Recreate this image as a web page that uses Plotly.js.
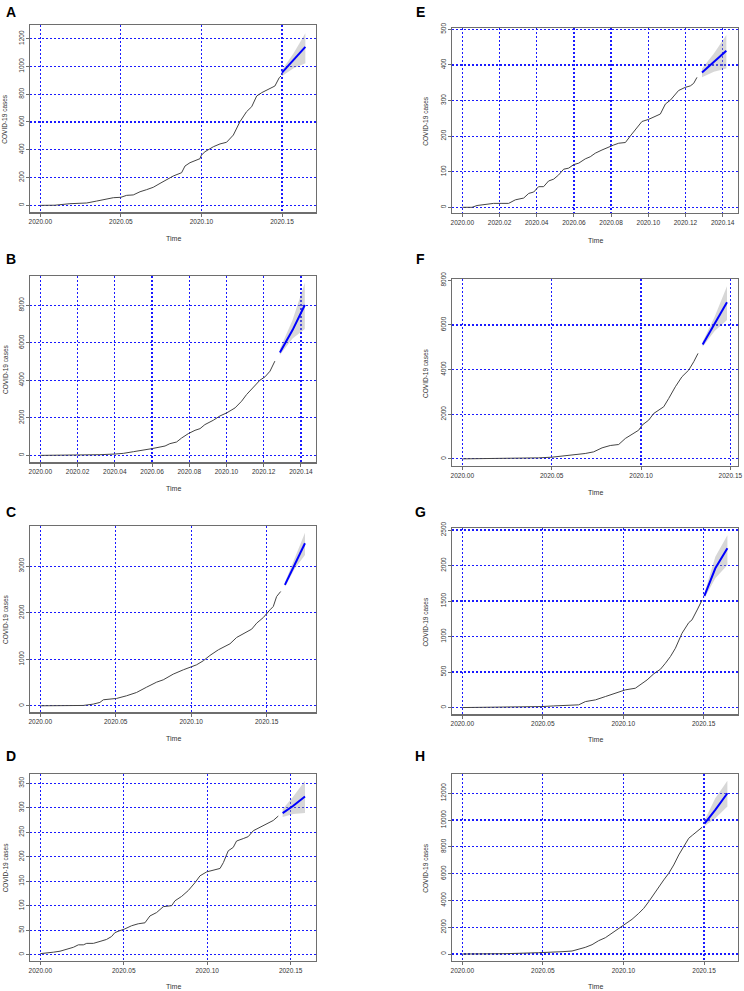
<!DOCTYPE html>
<html><head><meta charset="utf-8">
<script src="https://cdn.plot.ly/plotly-3.0.1.min.js"></script>
<style>html,body{margin:0;padding:0;background:#fff}</style>
</head><body><div id="chart" style="width:744px;height:991px"></div>
<script>
// ---------- data ----------
const panelLetters = ['A','B','C','D','E','F','G','H'];
const xTitle = 'Time';
const yTitle = 'COVID-19 cases';

const timeA = [2020.0000,2020.0091,2020.0184,2020.0288,2020.0350,2020.0412,2020.0453,2020.0500,2020.0536,2020.0577,2020.0619,2020.0660,2020.0701,2020.0743,2020.0784,2020.0825,2020.0877,2020.0898,2020.0929,2020.0991,2020.0999,2020.1022,2020.1074,2020.1115,2020.1156,2020.1198,2020.1239,2020.1280,2020.1312,2020.1343,2020.1374,2020.1405,2020.1436,2020.1456,2020.1483,2020.1494];
const casesA = [0,1,12,17,31,46,55,58,72,75,98,113,130,158,187,211,235,283,307,336,360,386,422,442,454,506,602,674,710,787,811,830,850,859,919,931];
const fcTimeA = [2020.1500,2020.1572,2020.1645];
const fcA = [955,1046,1140];
const loA = [931,986,1022];
const hiA = [975,1094,1238];

const timeB = [2020.0000,2020.0195,2020.0267,2020.0320,2020.0401,2020.0446,2020.0500,2020.0553,2020.0598,2020.0643,2020.0670,2020.0696,2020.0732,2020.0759,2020.0795,2020.0831,2020.0858,2020.0884,2020.0929,2020.0965,2020.1001,2020.1046,2020.1081,2020.1108,2020.1144,2020.1180,2020.1207,2020.1234,2020.1260];
const casesB = [0,0,18,36,71,107,196,267,356,445,499,624,713,926,1158,1336,1425,1639,1871,2102,2263,2530,2886,3243,3653,4009,4187,4490,5024];
const fcTimeB = [2020.1287,2020.1355,2020.1421];
const fcB = [5488,6681,8018];
const loB = [5345,6236,6735];
const hiB = [5666,7216,9200];

const timeC = [2020.0000,2020.0175,2020.0285,2020.0351,2020.0395,2020.0418,2020.0462,2020.0506,2020.0572,2020.0638,2020.0705,2020.0771,2020.0815,2020.0881,2020.0948,2020.0992,2020.1036,2020.1080,2020.1124,2020.1180,2020.1235,2020.1257,2020.1301,2020.1367,2020.1401,2020.1434,2020.1478,2020.1522,2020.1544,2020.1566,2020.1593];
const casesC = [0,0,7,36,72,129,136,158,215,286,401,508,558,680,773,823,881,967,1081,1203,1296,1332,1468,1597,1647,1776,1897,2062,2134,2348,2456];
const fcTimeC = [2020.1621,2020.1688,2020.1754];
const fcC = [2599,3064,3494];
const loC = [2560,2957,3243];
const hiC = [2650,3172,3720];

const timeD = [2020.0000,2020.0038,2020.0078,2020.0118,2020.0158,2020.0198,2020.0228,2020.0258,2020.0278,2020.0318,2020.0358,2020.0397,2020.0427,2020.0447,2020.0477,2020.0503,2020.0547,2020.0587,2020.0627,2020.0657,2020.0697,2020.0737,2020.0787,2020.0807,2020.0847,2020.0887,2020.0927,2020.0957,2020.0997,2020.1037,2020.1077,2020.1097,2020.1126,2020.1156,2020.1176,2020.1216,2020.1246,2020.1276,2020.1316,2020.1346,2020.1376,2020.1396,2020.1426];
const casesD = [2,3,5,7,11,15,20,20,23,23,27,31,37,45,49,52,59,63,65,79,86,98,100,110,119,131,147,161,169,173,176,188,212,219,232,237,241,253,260,266,271,274,283];
const fcTimeD = [2020.1452,2020.1516,2020.1586];
const fcD = [289,304,323];
const loD = [281,287,289];
const hiD = [297,323,355];

const timeE = [2020.0000,2020.0052,2020.0079,2020.0124,2020.0168,2020.0213,2020.0249,2020.0285,2020.0330,2020.0357,2020.0384,2020.0410,2020.0437,2020.0464,2020.0491,2020.0518,2020.0545,2020.0572,2020.0599,2020.0626,2020.0661,2020.0688,2020.0715,2020.0751,2020.0787,2020.0814,2020.0841,2020.0877,2020.0903,2020.0939,2020.0966,2020.1002,2020.1038,2020.1065,2020.1092,2020.1119,2020.1163,2020.1199,2020.1226,2020.1244,2020.1262];
const casesE = [0,0,5,8,11,11,11,21,26,39,43,58,58,74,79,91,107,110,120,124,136,142,152,161,170,175,180,182,200,222,241,247,255,262,290,301,328,337,341,348,365];
const fcTimeE = [2020.1289,2020.1353,2020.1420];
const fcE = [379,409,440];
const loE = [365,381,390];
const hiE = [390,432,484];

const timeF = [2020.0000,2020.0315,2020.0427,2020.0502,2020.0577,2020.0614,2020.0688,2020.0735,2020.0782,2020.0828,2020.0875,2020.0912,2020.0950,2020.0987,2020.1006,2020.1043,2020.1071,2020.1099,2020.1127,2020.1155,2020.1192,2020.1229,2020.1267,2020.1295,2020.1319];
const casesF = [0,15,45,75,135,150,240,314,493,598,643,912,1092,1286,1510,1735,2034,2183,2333,2707,3230,3678,3977,4351,4725];
const fcTimeF = [2020.1345,2020.1412,2020.1481];
const fcF = [5129,6041,7013];
const loF = [5024,5727,6220];
const hiF = [5250,6370,7730];

const timeG = [2020.0000,2020.0412,2020.0495,2020.0568,2020.0640,2020.0723,2020.0765,2020.0827,2020.0889,2020.0951,2020.1013,2020.1075,2020.1096,2020.1148,2020.1189,2020.1231,2020.1262,2020.1293,2020.1324,2020.1365,2020.1407,2020.1427,2020.1459,2020.1490];
const casesG = [0,5,14,23,33,38,84,108,155,202,249,272,305,389,474,539,624,718,835,1046,1196,1234,1374,1515];
const fcTimeG = [2020.1504,2020.1572,2020.1647];
const fcG = [1571,1961,2242];
const loG = [1538,1820,2007];
const hiG = [1609,2125,2427];

const timeH = [2020.0000,2020.0267,2020.0474,2020.0557,2020.0619,2020.0681,2020.0722,2020.0763,2020.0805,2020.0846,2020.0888,2020.0929,2020.0970,2020.1012,2020.1053,2020.1095,2020.1126,2020.1157,2020.1188,2020.1219,2020.1250,2020.1281,2020.1312,2020.1343,2020.1374,2020.1405,2020.1430,2020.1457,2020.1488];
const casesH = [0,25,100,125,174,224,349,498,697,996,1220,1544,1892,2241,2589,3037,3411,3909,4481,5029,5527,6025,6647,7394,8016,8639,8888,9137,9460];
const fcTimeH = [2020.1504,2020.1570,2020.1645];
const fcH = [9759,10755,12000];
const loH = [9560,10133,11004];
const hiH = [10008,11626,12940];

// ---------- layout configuration ----------
const W = 744, HT = 991;
const panels = [
  {L:'A', t:timeA, c:casesA, ft:fcTimeA, f:fcA, lo:loA, hi:hiA, box:[30.3,316,25,212.3],   xr:[2019.9938,2020.1711], yr:[-50,1298],   xd:0.05, yd:200,  lab:[11,12.5],  tt:238},
  {L:'B', t:timeB, c:casesB, ft:fcTimeB, f:fcB, lo:loB, hi:hiB, box:[30.3,316,275.7,462.3], xr:[2019.9946,2020.1481], yr:[-370,9580],  xd:0.02, yd:2000, lab:[11,259],   tt:488},
  {L:'C', t:timeC, c:casesC, ft:fcTimeC, f:fcC, lo:loC, hi:hiC, box:[30.3,316,525.7,712.3], xr:[2019.9934,2020.1827], yr:[-140,3870],  xd:0.05, yd:1000, lab:[11,512],   tt:738},
  {L:'D', t:timeD, c:casesD, ft:fcTimeD, f:fcD, lo:loD, hi:hiD, box:[30.3,316,773.7,961],   xr:[2019.9940,2020.1652], yr:[-13,369.5],  xd:0.05, yd:50,   lab:[11,756],   tt:986},
  {L:'E', t:timeE, c:casesE, ft:fcTimeE, f:fcE, lo:loE, hi:hiE, box:[452.3,737.7,27.7,213], xr:[2019.9946,2020.1481], yr:[-16,504.5],  xd:0.02, yd:100,  lab:[420,12.5], tt:240},
  {L:'F', t:timeF, c:casesF, ft:fcTimeF, f:fcF, lo:loF, hi:hiF, box:[452.3,737.7,279.3,466],xr:[2019.9944,2020.1541], yr:[-320,8045],  xd:0.05, yd:2000, lab:[420,259],  tt:492},
  {L:'G', t:timeG, c:casesG, ft:fcTimeG, f:fcG, lo:loG, hi:hiG, box:[452.3,737.7,528.3,714.3],xr:[2019.9938,2020.1711],yr:[-95,2524],   xd:0.05, yd:500,  lab:[420,512],  tt:739},
  {L:'H', t:timeH, c:casesH, ft:fcTimeH, f:fcH, lo:loH, hi:hiH, box:[452.3,737.7,773.7,961],xr:[2019.9938,2020.1709], yr:[-520,13460], xd:0.05, yd:2000, lab:[420,756],  tt:986}
];

const FONT = 'Liberation Sans, Arial, sans-serif';
const data = [];
const layout = {
  width: W, height: HT,
  margin: {l:0, r:0, t:0, b:0},
  paper_bgcolor: '#ffffff', plot_bgcolor: '#ffffff',
  showlegend: false,
  font: {family: FONT, color: '#222'},
  annotations: []
};

const axisCommon = {
  showgrid: true, gridcolor: '#1a1aff', griddash: '2px,2px', gridwidth: 1.2,
  zeroline: false, showline: true, mirror: true, linecolor: '#6e6e6e', linewidth: 1.2,
  ticks: 'outside', ticklen: 3, tickcolor: '#6e6e6e', tickwidth: 1,
  tickfont: {family: FONT, size: 6.5, color: '#333'},
  fixedrange: true
};

panels.forEach((p, i) => {
  const s = i === 0 ? '' : String(i + 1);
  const xa = 'x' + s, ya = 'y' + s;
  // confidence band
  data.push({
    type: 'scatter', mode: 'lines', xaxis: xa, yaxis: ya,
    x: p.ft.concat(p.ft.slice().reverse()),
    y: p.hi.concat(p.lo.slice().reverse()),
    fill: 'toself', fillcolor: 'rgba(150,150,150,0.38)',
    line: {width: 0}, hoverinfo: 'skip'
  });
  // observed series
  data.push({
    type: 'scatter', mode: 'lines', xaxis: xa, yaxis: ya,
    x: p.t, y: p.c, line: {color: '#444444', width: 1}
  });
  // forecast
  data.push({
    type: 'scatter', mode: 'lines', xaxis: xa, yaxis: ya,
    x: p.ft, y: p.f, line: {color: '#0000ff', width: 2}
  });
  const [x0, x1, y0, y1] = p.box;
  layout['xaxis' + s] = Object.assign({}, axisCommon, {
    domain: [x0 / W, x1 / W], range: p.xr, anchor: ya,
    tick0: 2020, dtick: p.xd, tickformat: '.2f'
  });
  layout['yaxis' + s] = Object.assign({}, axisCommon, {
    domain: [1 - y1 / HT, 1 - y0 / HT], range: p.yr, anchor: xa,
    tick0: 0, dtick: p.yd, tickangle: -90, tickformat: 'd'
  });
  // panel letter
  layout.annotations.push({
    xref: 'paper', yref: 'paper', x: p.lab[0] / W, y: 1 - p.lab[1] / HT,
    xanchor: 'center', yanchor: 'middle', showarrow: false,
    text: '<b>' + p.L + '</b>', font: {family: FONT, size: 14, color: '#000'}
  });
  // x title
  layout.annotations.push({
    xref: 'paper', yref: 'paper', x: (x0 + x1) / 2 / W, y: 1 - p.tt / HT,
    xanchor: 'center', yanchor: 'middle', showarrow: false,
    text: xTitle, font: {family: FONT, size: 7, color: '#333'}
  });
  // y title
  const yx = x0 < 100 ? 5 : 425.3;
  layout.annotations.push({
    xref: 'paper', yref: 'paper', x: yx / W, y: 1 - (y0 + y1) / 2 / HT,
    xanchor: 'center', yanchor: 'middle', showarrow: false, textangle: -90,
    text: yTitle, font: {family: FONT, size: 6.5, color: '#333'}
  });
});

Plotly.newPlot('chart', data, layout, {displayModeBar: false, staticPlot: true});
</script>
</body></html>
